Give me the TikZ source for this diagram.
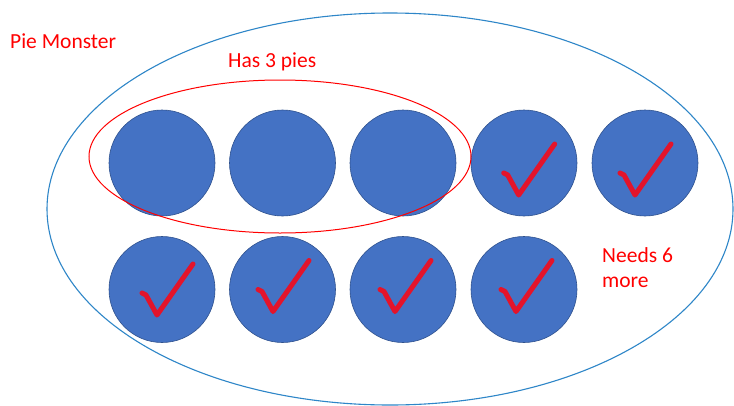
\documentclass[tikz,border=0pt]{standalone}
\usepackage{fontspec}
\setmainfont{Carlito}
\definecolor{pieblue}{HTML}{4472C4}
\definecolor{pieedge}{HTML}{2F528F}
\definecolor{ringblue}{HTML}{2E86C8}
\definecolor{checkred}{HTML}{E3142B}
\tikzset{
  pie/.style={circle, minimum size=106pt, inner sep=0pt, fill=pieblue, draw=pieedge, line width=0.6pt},
  lbl/.style={text=red, font=\fontsize{21.5}{25}\selectfont, inner sep=0pt, anchor=base west},
  chk/.pic={\draw[checkred, line width=5pt, line cap=round, line join=round]
     (-15,-22) -- (-11,-20) -- (0,0) -- (36,-51);}
}
\begin{document}
\begin{tikzpicture}[x=1pt,y=-1pt]
\useasboundingbox (0,0) rectangle (734,405);
\fill[white] (0,0) rectangle (734,405);
% outer ellipse
\draw[ringblue, line width=1.1pt] (390,209) ellipse [x radius=343, y radius=196];
% circles
\node[pie] (t1) at (162,163) {};
\node[pie] (t2) at (282.5,163) {};
\node[pie] (t3) at (403,163) {};
\node[pie] (t4) at (524,163) {};
\node[pie] (t5) at (645,163) {};
\node[pie] (b1) at (162,289.5) {};
\node[pie] (b2) at (282.5,289.5) {};
\node[pie] (b3) at (403,289.5) {};
\node[pie] (b4) at (524,289.5) {};
% red ellipse
\draw[red, line width=1pt] (280,156.5) ellipse [x radius=191, y radius=76.5];
% checks
\pic at ([shift={(-5.3,32)}]t4.center) {chk};
\pic at ([shift={(-10,32)}]t5.center) {chk};
\pic at ([shift={(-5,25.5)}]b1.center) {chk};
\pic at ([shift={(-9.5,22)}]b2.center) {chk};
\pic at ([shift={(-8,22)}]b3.center) {chk};
\pic at ([shift={(-8,22)}]b4.center) {chk};
% labels
\node[lbl] (pm) at (10,48) {Pie Monster};
\node[lbl] (h3) at (228,67) {Has 3 pies};
\node[lbl] (n6) at (602,262) {Needs 6};
\node[lbl] (mo) at (602,287) {more};
\end{tikzpicture}
\end{document}
